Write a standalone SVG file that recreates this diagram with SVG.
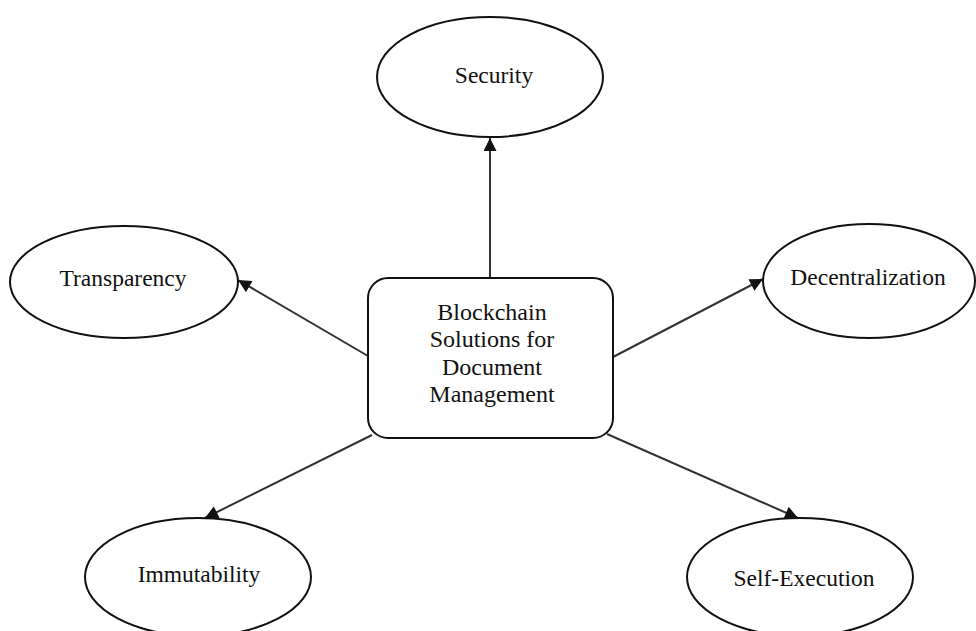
<svg xmlns="http://www.w3.org/2000/svg" width="976" height="631" viewBox="0 0 976 631">
<style>
.node{fill:#fff;stroke:#111;stroke-width:2}
.lbl{font-family:"Liberation Serif","Times New Roman",serif;font-size:23.5px;fill:#111;text-anchor:middle}
.ctr{font-size:24px}
.edge{stroke:#333;stroke-width:2;fill:none;marker-end:url(#ah)}
</style>
<defs>
<marker id="ah" viewBox="0 0 10 10" refX="10" refY="5" markerWidth="7" markerHeight="6.5" orient="auto" markerUnits="strokeWidth">
<path d="M0,0 L10,5 L0,10 z" fill="#111"/>
</marker>
</defs>
<rect width="976" height="631" fill="#fff"/>
<g id="connectors">
<line class="edge" x1="490" y1="278" x2="490" y2="138"/>
<line class="edge" x1="368" y1="356" x2="238" y2="280"/>
<line class="edge" x1="613" y1="357" x2="763" y2="279"/>
<line class="edge" x1="372" y1="435" x2="205" y2="518"/>
<line class="edge" x1="607" y1="434" x2="798" y2="518"/>
</g>
<g id="center">
<rect class="node" x="368" y="278" width="245" height="160" rx="20" ry="20"/>
<text class="lbl ctr" x="492" y="320">Blockchain</text>
<text class="lbl ctr" x="492" y="347">Solutions for</text>
<text class="lbl ctr" x="492" y="375">Document</text>
<text class="lbl ctr" x="492" y="402">Management</text>
</g>
<g id="security">
<ellipse class="node" cx="490" cy="77" rx="113" ry="60"/>
<text class="lbl" x="494" y="83">Security</text>
</g>
<g id="transparency">
<ellipse class="node" cx="124" cy="282" rx="114" ry="56"/>
<text class="lbl" x="123" y="286">Transparency</text>
</g>
<g id="decentralization">
<ellipse class="node" cx="869" cy="281" rx="106" ry="57"/>
<text class="lbl" x="868" y="285">Decentralization</text>
</g>
<g id="immutability">
<ellipse class="node" cx="198" cy="577" rx="113" ry="59"/>
<text class="lbl" x="199" y="582">Immutability</text>
</g>
<g id="self-execution">
<ellipse class="node" cx="800" cy="577" rx="113" ry="59"/>
<text class="lbl" x="804" y="586">Self-Execution</text>
</g>
</svg>
